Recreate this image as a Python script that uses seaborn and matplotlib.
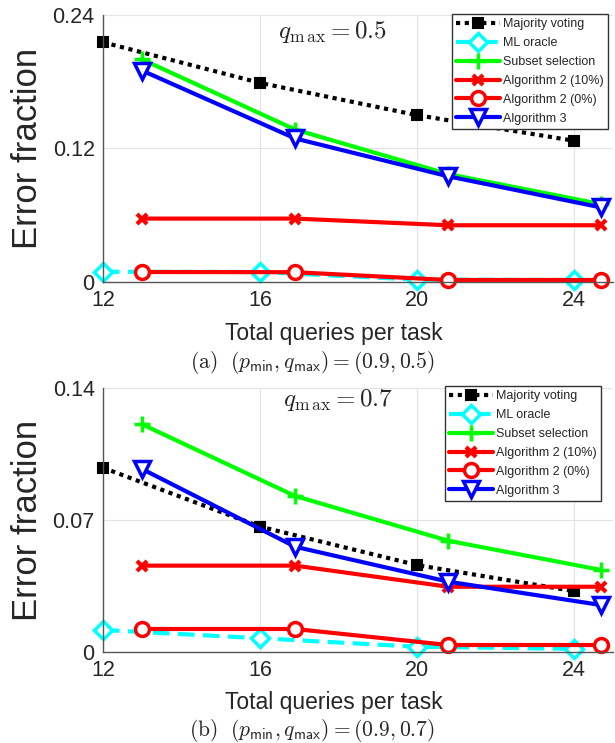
import numpy as np
import pandas as pd
import matplotlib
matplotlib.use("Agg")
import matplotlib.pyplot as plt
import seaborn as sns

sns.set_style("whitegrid")
plt.rcParams['font.family'] = ['Liberation Sans', 'DejaVu Sans']
plt.rcParams['mathtext.fontset'] = 'cm'

# x positions (total queries per task)
x_base = [12, 16, 20, 24]
x_alg = [13, 16.9, 20.8, 24.7]

# panel (a): q_max = 0.5
a_majority = [0.2155, 0.179, 0.150, 0.127]
a_oracle = [0.0092, 0.0090, 0.0022, 0.0018]
a_subset = [0.200, 0.137, 0.097, 0.070]
a_alg2_10 = [0.057, 0.057, 0.051, 0.051]
a_alg2_0 = [0.0090, 0.0088, 0.0018, 0.0018]
a_alg3 = [0.190, 0.129, 0.095, 0.067]

# panel (b): q_max = 0.7
b_majority = [0.0977, 0.0665, 0.0461, 0.0323]
b_oracle = [0.0117, 0.0073, 0.0028, 0.0017]
b_subset = [0.1207, 0.0827, 0.0590, 0.0435]
b_alg2_10 = [0.0458, 0.0458, 0.0346, 0.0346]
b_alg2_0 = [0.0122, 0.0122, 0.0037, 0.0037]
b_alg3 = [0.0970, 0.0558, 0.0373, 0.0249]

labels = ['Majority voting', 'ML oracle', 'Subset selection',
          'Algorithm 2 (10%)', 'Algorithm 2 (0%)', 'Algorithm 3']

styles = [
    dict(color='black', linestyle=(0, (1, 1.1)), lw=3, marker='s', ms=7,
         mfc='black', mec='black', mew=1.5),
    dict(color='#00ffff', linestyle=(0, (4, 2)), lw=3, marker='D', ms=9.5,
         mfc='white', mec='#00ffff', mew=2.5),
    dict(color='#00ff00', linestyle='-', lw=3, marker='+', ms=11,
         mec='#00ff00', mew=2.5),
    dict(color='#ff0000', linestyle='-', lw=3, marker='x', ms=7,
         mec='#ff0000', mew=3),
    dict(color='#ff0000', linestyle='-', lw=3, marker='o', ms=10,
         mfc='white', mec='#ff0000', mew=2.5),
    dict(color='#0000ff', linestyle='-', lw=3, marker='v', ms=11,
         mfc='white', mec='#0000ff', mew=2.5),
]


def draw_panel(ax, series, yticks, ylabels, qtext, qpos, legend_anchor):
    xs = [x_base, x_base, x_alg, x_alg, x_alg, x_alg]
    for xv, yv, lab, st in zip(xs, series, labels, styles):
        df = pd.DataFrame({'x': xv, 'y': yv})
        sns.lineplot(data=df, x='x', y='y', ax=ax, label=lab, clip_on=False, **st)
    ax.set_xlim(12, 25)
    ax.set_ylim(yticks[0], yticks[-1])
    ax.set_xticks(x_base)
    ax.set_xticklabels([str(v) for v in x_base])
    ax.set_yticks(yticks)
    ax.set_yticklabels(ylabels)
    ax.tick_params(axis='both', labelsize=15.5, colors='#262626', direction='in',
                   length=4, width=0.8, pad=6)
    ax.grid(True, color='#e3e3e3', lw=0.8)
    for s in ['top', 'right']:
        ax.spines[s].set_visible(False)
    for s in ['left', 'bottom']:
        ax.spines[s].set_color('#555555')
        ax.spines[s].set_linewidth(1.0)
    ax.set_xlabel('Total queries per task', fontsize=16.5, color='#262626', va='center')
    ax.xaxis.set_label_coords(0.453, -0.192)
    ax.set_ylabel('Error fraction', fontsize=25, color='#262626', va='center')
    ax.yaxis.set_label_coords(-0.149, 0.5)
    ax.text(qpos[0], qpos[1], qtext, transform=ax.transAxes, fontsize=18,
            ha='center', va='center')
    leg = ax.legend(loc='upper right', bbox_to_anchor=legend_anchor, fontsize=9,
                    frameon=True, fancybox=False, edgecolor='#333333',
                    framealpha=1, handlelength=3.5, handletextpad=0.25,
                    labelspacing=0.55, borderpad=0.35, borderaxespad=0)
    leg.get_frame().set_linewidth(1.0)
    leg.set_zorder(10)


fig = plt.figure(figsize=(6.15, 7.43), dpi=100)
ax1 = fig.add_axes([103 / 615, 1 - 282 / 743, 510 / 615, 267 / 743])
ax2 = fig.add_axes([103 / 615, 1 - 652 / 743, 510 / 615, 264 / 743])

draw_panel(ax1, [a_majority, a_oracle, a_subset, a_alg2_10, a_alg2_0, a_alg3],
           [0, 0.12, 0.24], ['0', '0.12', '0.24'],
           r'$q_{\mathrm{m\,ax}} = 0.5$', (0.45, 0.936), (0.990, 1.004))
draw_panel(ax2, [b_majority, b_oracle, b_subset, b_alg2_10, b_alg2_0, b_alg3],
           [0, 0.07, 0.14], ['0', '0.07', '0.14'],
           r'$q_{\mathrm{m\,ax}} = 0.7$', (0.46, 0.955), (0.976, 1.008))

fig.text(312 / 615, 1 - 363 / 743,
         r'$\mathrm{(a)}\ \ (p_{\mathsf{min}}, q_{\mathsf{max}}) = (0.9, 0.5)$',
         fontsize=15.5, ha='center', va='center')
fig.text(312 / 615, 1 - 730 / 743,
         r'$\mathrm{(b)}\ \ (p_{\mathsf{min}}, q_{\mathsf{max}}) = (0.9, 0.7)$',
         fontsize=15.5, ha='center', va='center')

fig.savefig('out.png', dpi=100)
